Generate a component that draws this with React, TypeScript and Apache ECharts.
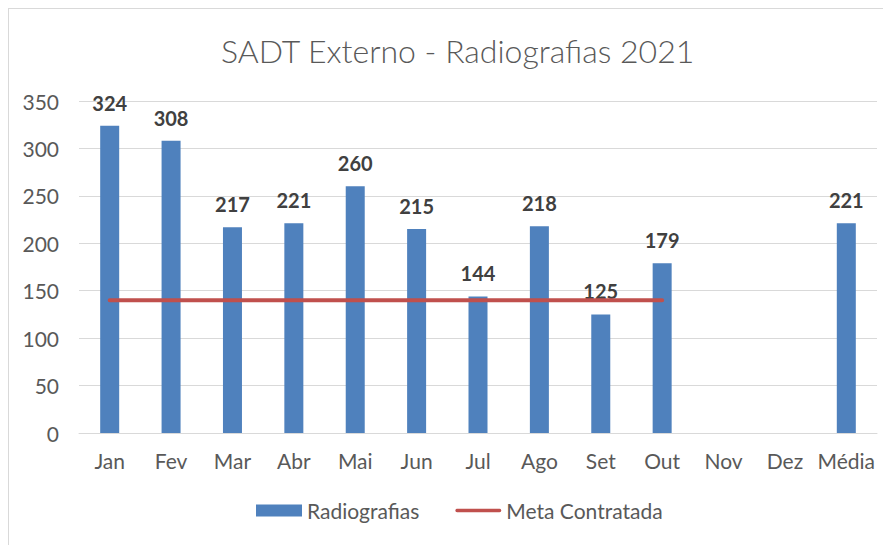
import React, { useEffect, useRef } from "react";
import * as echarts from "echarts";

const categories = ["Jan", "Fev", "Mar", "Abr", "Mai", "Jun", "Jul", "Ago", "Set", "Out", "Nov", "Dez", "Média"];
const radiografias: (number | null)[] = [324, 308, 217, 221, 260, 215, 144, 218, 125, 179, null, null, 221];
const metaContratada: (number | null)[] = [140, 140, 140, 140, 140, 140, 140, 140, 140, 140, null, null, null];
const yTicks = { min: 0, max: 350, interval: 50 };

const FONT = "Lato, 'Open Sans', sans-serif";

export default function App() {
  const ref = useRef<HTMLDivElement>(null);
  useEffect(() => {
    if (!ref.current) return;
    const chart = echarts.init(ref.current, undefined, { renderer: "svg" });
    chart.setOption({
      animation: false,
      backgroundColor: "#ffffff",
      textStyle: { fontFamily: FONT },
      title: {
        text: "SADT Externo - Radiografias 2021",
        left: 208,
        top: 21,
        textStyle: { fontFamily: FONT, fontSize: 32, fontWeight: 300, color: "#595959" },
      },
      graphic: [
        { type: "line", shape: { x1: 0.5, y1: 0, x2: 0.5, y2: 537 }, style: { stroke: "#d9d9d9", lineWidth: 1 } },
        { type: "line", shape: { x1: 0, y1: 0.5, x2: 883, y2: 0.5 }, style: { stroke: "#d9d9d9", lineWidth: 1 } },
      ],
      grid: { left: 71, right: 14, top: 93, bottom: 112 },
      legend: {
        bottom: 19,
        left: 243,
        itemWidth: 46,
        itemHeight: 12,
        itemGap: 36,
        textStyle: { fontFamily: FONT, fontSize: 21, color: "#595959" },
        data: [
          { name: "Radiografias", icon: "rect" },
          { name: "Meta Contratada", icon: "path://M2,0 L98,0 A4,4 0 0 1 98,8 L2,8 A4,4 0 0 1 2,0 Z" },
        ],
      },
      xAxis: {
        type: "category",
        data: categories,
        axisLine: { lineStyle: { color: "#d9d9d9", width: 1 } },
        axisTick: { show: false },
        axisLabel: { color: "#595959", fontFamily: FONT, fontSize: 21, margin: 17, interval: 0, hideOverlap: false },
      },
      yAxis: {
        type: "value",
        min: yTicks.min,
        max: yTicks.max,
        interval: yTicks.interval,
        axisLine: { show: false },
        axisTick: { show: false },
        splitLine: { lineStyle: { color: "#d9d9d9", width: 1 } },
        axisLabel: { color: "#595959", fontFamily: FONT, fontSize: 21, margin: 20 },
      },
      series: [
        {
          name: "Radiografias",
          type: "bar",
          data: radiografias,
          barWidth: 19,
          itemStyle: { color: "#4f81bd" },
          label: {
            show: true,
            position: "top",
            distance: 13,
            fontFamily: FONT,
            fontSize: 20,
            fontWeight: "bold",
            color: "#404040",
          },
        },
        {
          name: "Meta Contratada",
          type: "line",
          data: metaContratada,
          symbol: "none",
          lineStyle: { color: "#c0504d", width: 4, cap: "round" },
          itemStyle: { color: "#c0504d" },
        },
      ],
    });
    return () => chart.dispose();
  }, []);
  return <div ref={ref} style={{ width: 883, height: 537 }} />;
}
